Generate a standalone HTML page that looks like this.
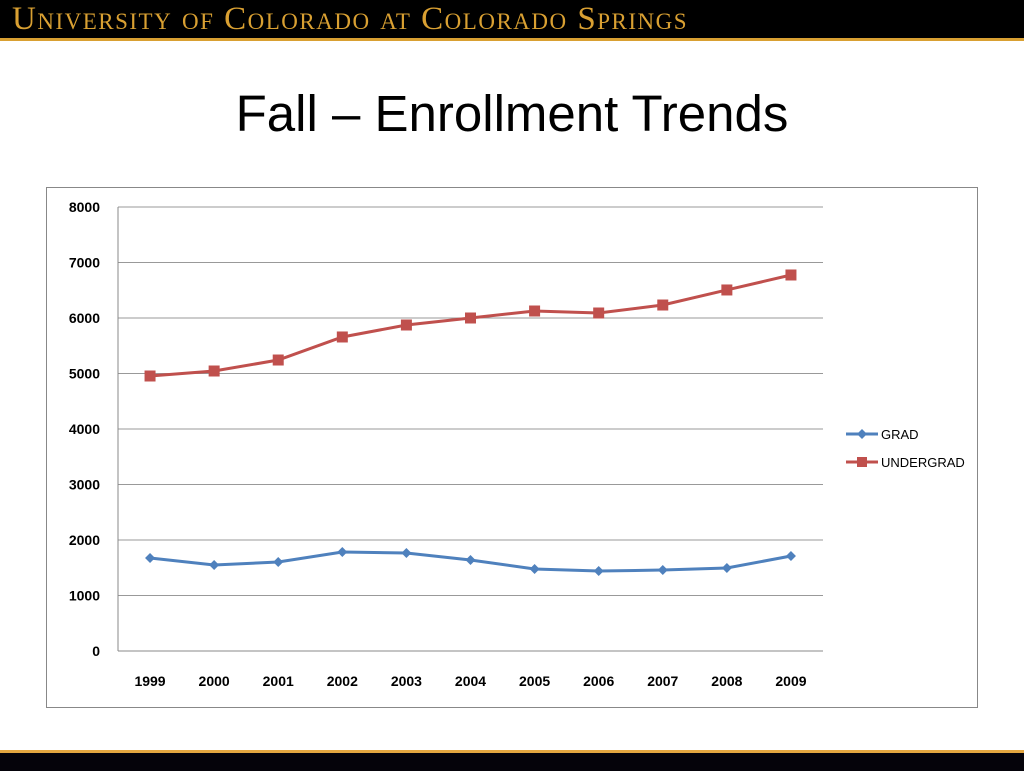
<!DOCTYPE html>
<html><head><meta charset="utf-8"><style>
body{margin:0;width:1024px;height:768px;background:#fff;position:relative;overflow:hidden;font-family:"Liberation Sans",sans-serif}
#hdr{position:absolute;left:0;top:0;width:1024px;height:38px;background:#000;border-bottom:3px solid #d9a032}
#hdr span{position:absolute;left:12px;top:1px;color:#d9a032;font-family:"Liberation Serif",serif;font-size:33px;font-variant:small-caps;letter-spacing:1.5px;white-space:nowrap}
#title{position:absolute;left:0;width:1024px;top:84px;text-align:center;font-size:51px;color:#000}
#box{position:absolute;left:46px;top:187px;width:930px;height:519px;border:1.5px solid #888}
#ftr{position:absolute;left:0;top:750px;width:1024px;height:18px;background:#05030a;border-top:3px solid #e3a640}
</style></head><body>
<div id="hdr"><span>University of Colorado at Colorado Springs</span></div>
<div id="title">Fall – Enrollment Trends</div>
<div id="box"></div>
<svg id="chart" width="1024" height="768" style="position:absolute;left:0;top:0"></svg>
<div id="ftr"></div>
<script>
const years=["1999","2000","2001","2002","2003","2004","2005","2006","2007","2008","2009"];
const grad=[1676,1550,1604,1784,1766,1640,1477,1441,1459,1495,1712];
const undergrad=[4955,5045,5243,5658,5874,6000,6126,6090,6234,6505,6775];
const yTicks=[0,1000,2000,3000,4000,5000,6000,7000,8000];
const svg=document.getElementById('chart');const NS='http://www.w3.org/2000/svg';
const X0=118,X1=823,Y0=651,Y1=207;
const xs=i=>X0+(X1-X0)*(i+0.5)/years.length;
const ys=v=>Y0-(Y0-Y1)*v/8000;
function el(t,a){const e=document.createElementNS(NS,t);for(const k in a)e.setAttribute(k,a[k]);svg.appendChild(e);return e;}
yTicks.forEach(v=>{
 const g=el('line',{x1:X0,x2:X1,y1:ys(v),y2:ys(v),stroke:v?'#999':'#888','stroke-width':1});
 
 
 const t=el('text',{x:100,y:ys(v)+5,'text-anchor':'end','font-size':14,'font-weight':'bold',fill:'#000'});t.textContent=v;
 
 
});
const ax=el('line',{x1:X0,x2:X0,y1:Y1,y2:Y0,stroke:'#888'});


years.forEach((y,i)=>{
 const t=el('text',{x:xs(i),y:686,'text-anchor':'middle','font-size':14,'font-weight':'bold',fill:'#000'});t.textContent=y;
 
 
});
function series(data,color,shape,name){
 const p=el('polyline',{points:data.map((v,i)=>xs(i)+','+ys(v)).join(' '),fill:'none',stroke:color,'stroke-width':3});
 
 
 data.forEach((v,i)=>{
  let m;
  if(shape==='sq')m=el('rect',{x:xs(i)-5.5,y:ys(v)-5.5,width:11,height:11,fill:color});
  else m=el('polygon',{points:`${xs(i)},${ys(v)-5} ${xs(i)+5},${ys(v)} ${xs(i)},${ys(v)+5} ${xs(i)-5},${ys(v)}`,fill:color});
  
  
 });
}
series(undergrad,'#c0504d','sq','undergrad');
series(grad,'#4f81bd','dia','grad');
function legend(y,color,shape,label,name){
 const l=el('line',{x1:846,x2:878,y1:y,y2:y,stroke:color,'stroke-width':3});
 
 
 let m;
 if(shape==='sq')m=el('rect',{x:857,y:y-5,width:10,height:10,fill:color});
 else m=el('polygon',{points:`862,${y-5} 867,${y} 862,${y+5} 857,${y}`,fill:color});
 
 
 const t=el('text',{x:881,y:y+5,'font-size':13,fill:'#000'});t.textContent=label;
 
 
}
legend(434,'#4f81bd','dia','GRAD','grad');
legend(462,'#c0504d','sq','UNDERGRAD','undergrad');
</script>
</body></html>
